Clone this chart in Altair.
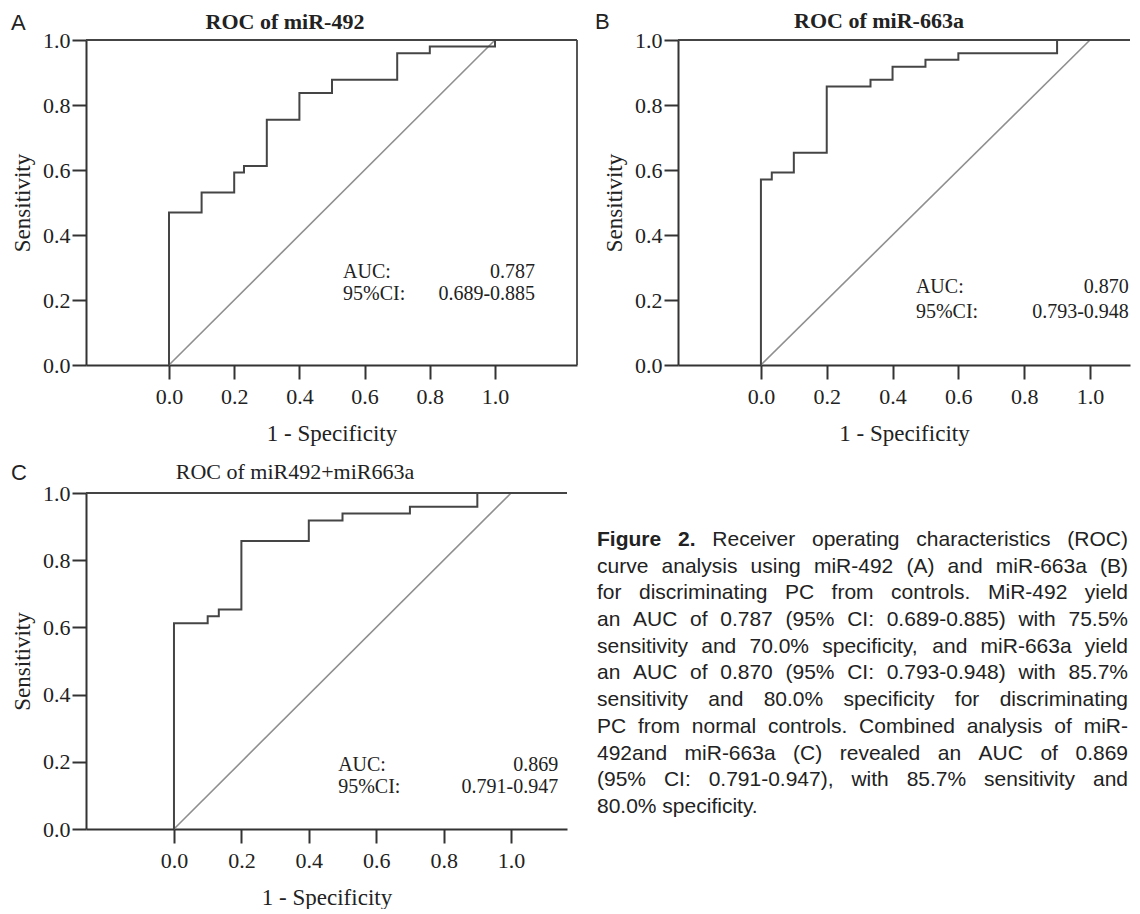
import altair as alt
import pandas as pd

# ---------------- data ----------------
tick_values = [0.0, 0.2, 0.4, 0.6, 0.8, 1.0]
ref_fpr = [0.0, 1.0]
ref_tpr = [0.0, 1.0]

# Panel A: miR-492
a_fpr = [0.0, 0.0, 0.1, 0.2, 0.23, 0.3, 0.4, 0.5, 0.7, 0.8, 1.0]
a_tpr = [0.0, 0.469, 0.531, 0.592, 0.612, 0.755, 0.837, 0.878, 0.959, 0.980, 1.0]
# Panel B: miR-663a
b_fpr = [0.0, 0.0, 0.033, 0.1, 0.2, 0.333, 0.4, 0.5, 0.6, 0.9, 1.0]
b_tpr = [0.0, 0.571, 0.592, 0.653, 0.857, 0.878, 0.918, 0.939, 0.959, 1.0, 1.0]
# Panel C: miR492+miR663a
c_fpr = [0.0, 0.0, 0.1, 0.133, 0.2, 0.4, 0.5, 0.7, 0.9, 1.0]
c_tpr = [0.0, 0.612, 0.633, 0.653, 0.857, 0.918, 0.939, 0.959, 1.0, 1.0]

letters = ["A", "B", "C"]
titles = ["ROC of miR-492", "ROC of miR-663a", "ROC of miR492+miR663a"]
auc_values = ["0.787", "0.870", "0.869"]
ci_values = ["0.689-0.885", "0.793-0.948", "0.791-0.947"]

caption_bold = "Figure 2."
caption_lines = [
    "Figure 2. Receiver operating characteristics (ROC)",
    "curve analysis using miR-492 (A) and miR-663a (B)",
    "for discriminating PC from controls. MiR-492 yield",
    "an AUC of 0.787 (95% CI: 0.689-0.885) with 75.5%",
    "sensitivity and 70.0% specificity, and miR-663a yield",
    "an AUC of 0.870 (95% CI: 0.793-0.948) with 85.7%",
    "sensitivity and 80.0% specificity for discriminating",
    "PC from normal controls. Combined analysis of miR-",
    "492and miR-663a (C) revealed an AUC of 0.869",
    "(95% CI: 0.791-0.947), with 85.7% sensitivity and",
    "80.0% specificity.",
]

SERIF = "Liberation Serif"
SANS = "Liberation Sans"
INK = "#222222"

# ---------------- justified caption layout (Liberation Sans = Arial metrics) ----------------
CAP_FS = 21
CAP_W = 531
_reg = {" ": 278, ".": 278, ",": 278, ":": 278, ";": 278, "%": 889, "(": 333, ")": 333,
        "-": 333, "+": 584}
for ch in "0123456789":
    _reg[ch] = 556
for ch, w in zip("ABCDEFGHIJKLMNOPQRSTUVWXYZ",
                 [667, 667, 722, 722, 667, 611, 778, 722, 278, 500, 667, 556, 833, 722, 778,
                  667, 778, 722, 667, 611, 722, 667, 944, 667, 667, 611]):
    _reg[ch] = w
for ch, w in zip("abcdefghijklmnopqrstuvwxyz",
                 [556, 556, 500, 556, 556, 278, 556, 556, 222, 222, 500, 222, 833, 556, 556,
                  556, 556, 333, 500, 278, 556, 500, 722, 500, 500, 500]):
    _reg[ch] = w
_bold = dict(_reg)
_bold.update({"F": 611, "i": 278, "g": 611, "u": 611, "r": 389, "e": 556})


def text_width(s, bold):
    table = _bold if bold else _reg
    return sum(table.get(c, 556) for c in s) * CAP_FS / 1000.0


bold_tokens = caption_bold.split(" ")
rows = []
for li, line in enumerate(caption_lines):
    words = line.split(" ")
    flags = [li == 0 and k < len(bold_tokens) for k in range(len(words))]
    widths = [text_width(w, b) for w, b in zip(words, flags)]
    if li < len(caption_lines) - 1 and len(words) > 1:
        gap = (CAP_W - sum(widths)) / (len(words) - 1)
    else:
        gap = text_width(" ", False)
    pos = 0.0
    for w, b, wd in zip(words, flags, widths):
        rows.append({"word": w, "pos": pos, "line": li, "bold": b})
        pos += wd + gap
cap_df = pd.DataFrame(rows)


def panel(fpr, tpr, letter, title, bold, auc_v, ci_v, width, height, xdom,
          title_cx, letter_x, head_y, lab_x, val_x, auc_y, ci_y, right_border):
    xs = alt.Scale(domain=xdom, nice=False, zero=False)
    ys = alt.Scale(domain=[0, 1], nice=False)
    xaxis = alt.Axis(values=tick_values, format=".1f", title="1 - Specificity",
                     labelPadding=7, titlePadding=15, labelFlush=False)
    yaxis = alt.Axis(values=tick_values, format=".1f", title="Sensitivity",
                     labelPadding=2, titlePadding=8, labelFlush=False)

    diag = alt.Chart(pd.DataFrame({"fpr": ref_fpr, "tpr": ref_tpr})).mark_line(
        color="#8f8f8f", strokeWidth=1.6
    ).encode(
        x=alt.X("fpr:Q", scale=xs, axis=xaxis),
        y=alt.Y("tpr:Q", scale=ys, axis=yaxis),
    )
    roc = alt.Chart(pd.DataFrame({"fpr": fpr, "tpr": tpr, "i": list(range(len(fpr)))})).mark_line(
        interpolate="step-after", color="#454545", strokeWidth=2
    ).encode(x="fpr:Q", y="tpr:Q", order="i:Q")

    one = pd.DataFrame({"k": [0]})
    top = alt.Chart(one).mark_rule(color="#444444", strokeWidth=1.8).encode(
        x=alt.value(0), x2=alt.value(width), y=alt.value(0)
    )
    layers = [diag, roc, top]
    if right_border:
        layers.append(alt.Chart(one).mark_rule(color="#444444", strokeWidth=1.8).encode(
            x=alt.value(width), y=alt.value(0), y2=alt.value(height)))

    def txt(t, xv, yv, align):
        return alt.Chart(pd.DataFrame({"t": [t]})).mark_text(
            align=align, baseline="middle", font=SERIF, fontSize=20, color=INK
        ).encode(x=alt.datum(xv), y=alt.datum(yv), text="t:N")

    layers += [txt("AUC:", lab_x, auc_y, "left"), txt("95%CI:", lab_x, ci_y, "left"),
               txt(auc_v, val_x, auc_y, "right"), txt(ci_v, val_x, ci_y, "right")]

    ttl = alt.Chart(pd.DataFrame({"t": [title]})).mark_text(
        align="center", baseline="middle", font=SERIF, fontSize=22,
        fontWeight="bold" if bold else "normal", color=INK
    ).encode(x=alt.value(title_cx), y=alt.value(head_y), text="t:N")
    let = alt.Chart(pd.DataFrame({"t": [letter]})).mark_text(
        align="left", baseline="middle", font=SANS, fontSize=22, color=INK
    ).encode(x=alt.value(letter_x), y=alt.value(head_y + 1), text="t:N")
    layers += [ttl, let]

    return alt.layer(*layers).properties(width=width, height=height)


A = panel(a_fpr, a_tpr, letters[0], titles[0], True, auc_values[0], ci_values[0],
          491, 325, [-0.2546, 1.2515], 199, -75, -18, 0.534, 1.123, 0.285, 0.22, True)
B = panel(b_fpr, b_tpr, letters[1], titles[1], True, auc_values[1], ci_values[1],
          452, 325, [-0.252, 1.1216], 201, -83, -19, 0.471, 1.118, 0.24, 0.164, False)
C = panel(c_fpr, c_tpr, letters[2], titles[2], False, auc_values[2], ci_values[2],
          481, 336, [-0.261, 1.166], 209, -75, -21, 0.487, 1.14, 0.19, 0.126, False)

# caption block
ys_cap = alt.Scale(domain=[-1.76, 10.824], reverse=True)
xs_cap = alt.Scale(domain=[0, CAP_W], range=[-81, CAP_W - 81])
cap_base = alt.Chart(cap_df).encode(
    x=alt.X("pos:Q", scale=xs_cap, axis=None),
    y=alt.Y("line:Q", scale=ys_cap, axis=None),
    text="word:N",
)
cap_reg = cap_base.transform_filter("!datum.bold").mark_text(
    align="left", baseline="middle", font=SANS, fontSize=CAP_FS, color=INK)
cap_bold = cap_base.transform_filter("datum.bold").mark_text(
    align="left", baseline="middle", font=SANS, fontSize=CAP_FS, fontWeight="bold", color=INK)
D = alt.layer(cap_reg, cap_bold).properties(width=452, height=336)

chart = alt.concat(
    A, B, C, D, columns=2, spacing={"row": 128, "column": 101},
    bounds="flush", align="each"
).properties(
    padding={"left": 3, "top": 2, "right": 0, "bottom": 0}
).configure(background="white").configure_view(strokeWidth=0).configure_axis(
    grid=False, domainColor="#333333", domainWidth=2, tickColor="#333333", tickWidth=2,
    tickSize=14, labelFont=SERIF, labelFontSize=22, labelColor=INK,
    titleFont=SERIF, titleFontSize=23, titleFontWeight="normal", titleColor=INK,
)

chart.save("out.html", embed_options={"renderer": "svg", "actions": False})
